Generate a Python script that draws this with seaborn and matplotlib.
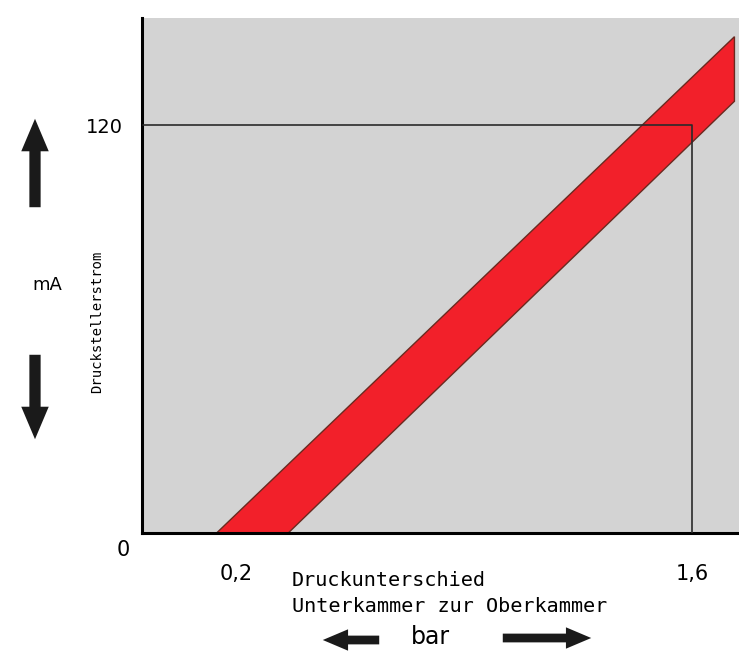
import matplotlib
matplotlib.use('Agg')
import matplotlib.pyplot as plt
import seaborn as sns
import pandas as pd

# band (Kennlinie mit Toleranz)
upper_x = [0.14, 1.73]
upper_y = [0, 146]
lower_x = [0.36, 1.73]
lower_y = [0, 127]
# marked operating point
ref_x = 1.6
ref_y = 120
xtick_vals = [0.2, 1.6]
xtick_labels = ['0,2', '1,6']
ytick_vals = [120]
ytick_labels = ['120']

sns.set_style('white')
plt.rcParams['font.family'] = ['DejaVu Sans']
plt.rcParams['text.color'] = 'black'

fig = plt.figure(figsize=(7.39, 6.55), dpi=100)
ax = fig.add_axes([142 / 739, 122 / 655, 597 / 739, 515 / 655])
ax.set_facecolor('#d3d3d3')

# red band
poly_x = [upper_x[0], upper_x[1], lower_x[1], lower_x[0]]
poly_y = [upper_y[0], upper_y[1], lower_y[1], lower_y[0]]
ax.fill(poly_x, poly_y, color='#f2202a', edgecolor='#6a2a20', lw=1, zorder=2)

# reference lines to the operating point
ref = pd.DataFrame({'x': [-0.085, ref_x, ref_x], 'y': [ref_y, ref_y, 0]})
sns.lineplot(data=ref, x='x', y='y', sort=False, estimator=None, errorbar=None,
             color='#2a2a2a', lw=1.2, ax=ax, zorder=3)

ax.set_xlim(-0.089, 1.744)
ax.set_ylim(0, 151.5)
ax.set_xticks(xtick_vals)
ax.set_xticklabels(xtick_labels, fontsize=15)
ax.set_yticks(ytick_vals)
ax.set_yticklabels(ytick_labels, fontsize=14)
ax.tick_params(axis='x', length=0, pad=22, labelcolor='black')
ax.tick_params(axis='y', length=0, pad=14, labelcolor='black')
ax.set_xlabel('')
ax.set_ylabel('')
for s in ['top', 'right']:
    ax.spines[s].set_visible(False)
for s in ['left', 'bottom']:
    ax.spines[s].set_color('black')
    ax.spines[s].set_linewidth(2.2)

# texts
fig.text(123 / 739, 1 - 550 / 655, '0', fontsize=15, ha='center', va='center')
fig.text(97 / 739, 1 - 322 / 655, 'Druckstellerstrom', rotation=90, fontsize=10,
         family='DejaVu Sans Mono', ha='center', va='center')
fig.text(47 / 739, 1 - 285 / 655, 'mA', fontsize=13, ha='center', va='center')
fig.text(292 / 739, 1 - 580 / 655, 'Druckunterschied', fontsize=14.5,
         family='DejaVu Sans Mono', ha='left', va='center')
fig.text(292 / 739, 1 - 607 / 655, 'Unterkammer zur Oberkammer', fontsize=14.5,
         family='DejaVu Sans Mono', ha='left', va='center')
fig.text(430 / 739, 1 - 637 / 655, 'bar', fontsize=17, ha='center', va='center')

arrow = dict(arrowstyle='simple,head_width=1.1,head_length=1.3,tail_width=0.45',
             color='#1a1a1a', lw=0)
ax.annotate('', xy=(35, 655 - 116), xytext=(35, 655 - 210), xycoords='figure pixels',
            textcoords='figure pixels', arrowprops=dict(arrow, mutation_scale=18),
            annotation_clip=False)
ax.annotate('', xy=(35, 655 - 442), xytext=(35, 655 - 352), xycoords='figure pixels',
            textcoords='figure pixels', arrowprops=dict(arrow, mutation_scale=18),
            annotation_clip=False)
ax.annotate('', xy=(320, 655 - 640), xytext=(382, 655 - 640), xycoords='figure pixels',
            textcoords='figure pixels', arrowprops=dict(arrow, mutation_scale=14),
            annotation_clip=False)
ax.annotate('', xy=(594, 655 - 638), xytext=(500, 655 - 638), xycoords='figure pixels',
            textcoords='figure pixels', arrowprops=dict(arrow, mutation_scale=14),
            annotation_clip=False)

fig.savefig('out.png', dpi=100)
